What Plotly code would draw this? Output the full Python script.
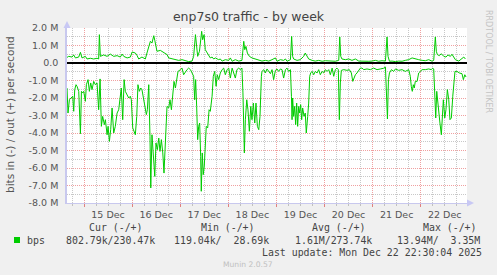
import pandas as pd
import plotly.graph_objects as go

# ---------------- data ----------------
BASE = pd.Timestamp("2025-12-15 00:00")  # hours below are relative to this

out_hours = [-8.5, -7.65, -6.0, -5.15, -4.3, -2.65, -1.8, -1.0, 0.67, 1.5,
             3.16, 4.8, 6.5, 7.3, 7.65, 8.15, 9.8, 11.5, 13.1, 14.8,
             16.5, 18.1, 19.0, 19.8, 21.5, 23.1, 24.0, 25.6, 26.4, 27.3,
             28.9, 30.6, 31.4, 32.3, 33.1, 33.9, 34.8, 35.3, 36.4, 38.1,
             39.8, 41.4,
             42.25, 43.9, 45.6, 47.2, 48.9, 50.6, 52.2, 53.9, 54.7, 55.6,
             56.1, 56.7, 57.6, 58.2, 58.7, 59.2, 59.9, 60.5, 61.4, 62.2,
             63.0, 63.9, 64.7, 65.5, 67.2, 68.0, 68.9, 70.5, 72.2, 73.0,
             73.9, 75.5, 77.2, 78.8, 79.7, 80.2, 80.8, 81.5, 82.5, 83.8,
             85.5, 87.2,
             88.8, 90.5, 92.2, 93.8, 95.5, 96.3, 98.0, 99.6, 100.5, 101.3,
             103.0, 103.6, 104.1, 104.6, 106.3, 107.9, 109.6, 110.4, 111.3, 112.1,
             113.8, 115.4, 117.1, 118.8, 120.4, 122.1, 123.8, 125.4, 127.1, 127.6,
             128.1, 128.7, 130.4, 132.1, 133.7, 135.4, 137.1,
             138.7, 140.4, 142.1, 143.7, 145.4, 147.0, 148.7, 150.4, 151.2, 151.7,
             152.4, 153.7, 155.4, 157.0, 158.7, 160.3, 162.0, 163.7, 165.3, 167.0,
             168.7, 170.3, 172.0, 173.7, 174.5, 175.3, 175.8, 176.3, 177.3, 178.3,
             179.5, 180.6, 181.6, 182.8, 183.6, 184.5, 185.3, 187.0, 188.6, 189.5,
             190.3]
out_mbps = [0.32, 0.38, 0.34, 0.46, 0.29, 0.34, 0.61, 0.29, 0.38, 0.23,
            0.27, 0.23, 0.27, 0.23, 1.62, 0.38, 0.46, 0.38, 0.51, 0.38,
            0.42, 0.34, 0.51, 0.38, 0.29, 0.34, 0.63, 0.57, 0.44, 0.23,
            0.34, 0.23, 0.57, 0.99, 1.24, 1.14, 1.56, 1.30, 0.67, 0.72,
            0.57, 0.48,
            0.29, 0.23, 0.19, 0.15, 0.19, 0.11, 0.08, 0.11, 0.38, 1.62,
            0.95, 0.38, 0.67, 1.43, 1.81, 1.33, 1.62, 0.76, 0.57, 0.42,
            0.29, 0.34, 0.23, 0.29, 0.19, 0.23, 0.11, 0.19, 0.15, 0.29,
            0.10, 0.19, 0.11, 0.15, 1.24, 0.76, 0.95, 0.57, 0.38, 0.29,
            0.23, 0.15,
            0.11, 0.15, 0.11, 0.19, 0.29, 0.10, 0.19, 0.15, 0.23, 0.10,
            0.19, 1.52, 0.38, 0.23, 0.15, 0.19, 0.38, 0.57, 0.38, 0.23,
            0.15, 0.11, 0.15, 0.10, 0.13, 0.11, 0.13, 0.10, 0.15, 1.49,
            0.38, 0.23, 0.19, 0.23, 0.15, 0.23, 0.11,
            0.10, 0.08, 0.10, 0.11, 0.15, 0.10, 0.13, 0.11, 1.49, 0.38,
            0.10, 0.11, 0.08, 0.11, 0.10, 0.15, 0.19, 0.29, 0.23, 0.19,
            0.15, 0.13, 0.19, 0.10, 0.15, 1.49, 0.67, 0.48, 0.42, 0.53,
            0.38, 0.34, 0.46, 0.38, 0.50, 0.34, 0.19, 0.11, 0.23, 0.34,
            0.23]

in_hours = [-8.5, -8.0, -7.3, -6.3, -5.65, -5.15, -4.65, -4.0, -3.5, -2.65,
            -1.8, -1.3, -0.67, -0.17, 0.67, 1.16, 2.0, 2.66, 3.33, 4.0,
            4.82, 5.65, 6.5, 7.3, 8.0, 8.65, 9.3, 10.15, 10.65, 11.5,
            12.0, 12.65, 13.3, 14.0, 14.8, 15.6, 16.5, 17.3, 18.1, 18.6,
            19.3, 20.0, 20.6, 21.5, 22.3, 23.1, 23.6, 24.3, 24.95, 25.6,
            26.3, 26.9, 27.6, 28.3, 28.9, 29.8, 30.6, 31.1, 31.6, 32.3,
            32.9, 33.3, 33.9, 34.6, 35.3, 35.9, 36.6, 37.3, 37.9, 38.6,
            39.3, 39.9, 40.6, 41.4,
            42.25, 42.9, 43.6, 44.2, 44.9, 45.6, 46.2, 46.9, 48.1, 48.9,
            49.7, 50.6, 51.4, 52.2, 53.1, 53.9, 54.7, 55.2, 55.7, 56.2,
            56.7, 57.2, 57.7, 58.2, 58.5, 59.0, 59.5, 60.0, 60.5, 61.0,
            61.7, 62.4, 63.0, 63.9, 64.5, 65.2, 65.9, 66.5, 67.2, 68.0,
            68.9, 69.7, 70.5, 71.4, 72.2, 73.0, 73.9, 74.7, 75.5, 76.3,
            77.2, 78.0, 78.8, 79.3, 80.0, 80.5, 81.2, 81.8, 82.5, 83.2,
            83.8, 84.5, 85.2, 85.8, 86.5, 87.2, 87.8, 88.5,
            88.8, 89.7, 90.5, 91.3, 92.2, 93.0, 93.8, 94.6, 95.5, 96.3,
            97.1, 98.0, 98.8, 99.6, 100.5, 101.3, 102.1, 103.0, 103.5, 103.8,
            104.1, 104.6, 105.1, 105.6, 106.1, 106.6, 107.1, 107.6, 108.1, 108.6,
            109.1, 109.8, 110.4, 110.9, 111.6, 112.1, 112.6, 113.1, 113.8, 114.6,
            115.4, 116.3, 117.1, 117.9, 118.8, 119.6, 120.4, 121.3, 122.1, 122.9,
            123.8, 124.6, 125.4, 126.2, 126.9, 127.4, 127.9, 128.4, 129.6, 131.2,
            132.4, 133.4, 134.1, 134.7, 135.4, 136.2, 137.1, 137.9,
            138.7, 139.6, 141.2, 142.9, 144.5, 146.2, 147.9, 149.5, 150.4, 150.9,
            151.4, 151.9, 152.4, 153.4, 154.5, 155.4, 157.0, 158.7, 160.3, 162.0,
            162.8, 163.3, 163.8, 164.3, 164.8, 165.3, 166.2, 167.0, 167.8, 168.7,
            170.3, 172.0, 173.3, 174.0, 174.5, 175.0, 175.5, 176.0, 176.5, 177.0,
            177.6, 178.3, 178.8, 179.3, 180.0, 180.6, 181.3, 182.0, 182.6, 183.3,
            184.0, 184.6, 185.1, 186.1, 187.3, 188.6, 189.3, 190.0, 190.6]
in_mbps = [1.43, 2.86, 2.10, 2.00, 1.90, 2.76, 1.52, 1.24, 1.33, 1.62,
           4.04, 1.62, 1.71, 1.62, 2.19, 1.24, 0.95, 1.62, 1.14, 1.52,
           1.05, 1.24, 1.14, 2.67, 0.91, 3.62, 3.05, 3.52, 3.24, 4.10,
           3.62, 4.48, 3.81, 2.57, 4.00, 3.62, 2.86, 2.67, 1.90, 1.43,
           3.24, 0.95, 1.62, 1.81, 2.00, 1.90, 2.10, 3.71, 3.90, 4.10,
           3.05, 1.24, 1.62, 1.43, 1.52, 2.10, 2.67, 2.95, 2.67, 1.24,
           4.19, 7.14, 4.10, 5.14, 6.48, 4.57, 4.95, 4.29, 5.05, 4.38,
           5.14, 6.29, 4.19, 2.48,
           2.57, 2.10, 2.67, 1.90, 1.05, 1.43, 0.86, 0.48, 0.38, 0.29,
           0.67, 0.48, 0.38, 0.29, 0.38, 0.57, 0.76, 2.10, 0.95, 2.48,
           4.38, 3.62, 3.43, 5.33, 7.33, 5.14, 6.38, 5.90, 4.38, 3.62,
           3.71, 2.67, 2.76, 1.90, 0.76, 0.48, 1.33, 0.67, 0.95, 0.57,
           0.38, 0.29, 0.67, 0.38, 0.29, 0.86, 0.29, 0.57, 0.86, 0.38,
           0.29, 0.38, 0.29, 1.71, 5.14, 3.24, 2.10, 2.67, 3.90, 2.48,
           3.24, 2.29, 3.43, 2.29, 3.62, 3.81, 3.05, 0.76,
           0.48, 0.38, 0.57, 0.34, 0.48, 0.61, 0.38, 0.95, 0.42, 0.34,
           0.48, 0.34, 0.38, 0.86, 0.38, 0.29, 0.48, 0.38, 1.90, 3.24,
           2.00, 3.05, 2.48, 3.52, 2.29, 3.62, 2.48, 2.86, 2.38, 3.24,
           2.57, 3.05, 2.86, 4.00, 3.05, 2.29, 0.76, 0.57, 0.48, 0.67,
           0.48, 0.57, 0.38, 0.67, 0.48, 0.57, 0.38, 0.48, 0.38, 0.67,
           0.29, 0.76, 0.38, 0.29, 0.38, 3.24, 1.14, 0.42, 0.38, 0.42,
           0.38, 0.57, 1.05, 0.86, 0.67, 0.57, 0.38, 0.29,
           0.29, 0.38, 0.34, 0.38, 0.29, 0.38, 0.34, 0.30, 0.23, 1.33,
           3.20, 0.95, 0.57, 0.38, 0.48, 0.34, 0.42, 0.38, 0.48, 0.38,
           0.76, 1.33, 1.62, 1.24, 1.43, 1.05, 1.05, 0.57, 0.48, 0.38,
           0.38, 0.34, 0.38, 0.29, 0.34, 1.71, 3.14, 1.62, 2.29, 2.86,
           3.43, 4.10, 3.24, 2.10, 3.14, 2.67, 1.52, 2.10, 3.24, 3.14,
           1.90, 1.05, 0.48, 0.48, 0.57, 0.61, 0.95, 0.67, 0.80]

x_range_hours = [-8.5, 191.1]
y_tick_values = [2, 1, 0, -1, -2, -3, -4, -5, -6, -7, -8]
y_tick_labels = ["2.0 M", "1.0 M", "0.0", "-1.0 M", "-2.0 M", "-3.0 M",
                 "-4.0 M", "-5.0 M", "-6.0 M", "-7.0 M", "-8.0 M"]

series_name = "bps"
legend_headers = ["Cur (-/+)", "Min (-/+)", "Avg (-/+)", "Max (-/+)"]
legend_values = ["802.79k/230.47k", "119.04k/  28.69k", "1.61M/273.74k", "13.94M/  3.35M"]
last_update = "Last update: Mon Dec 22 22:30:04 2025"

# ---------------- styling ----------------
W, H = 497, 275
L, T, PW, PH = 67, 28, 400, 175
GREEN = "#00cc00"
MAJOR = "#f0a0a0"
MINOR = "#c8c8c8"
AXIS = "#c8c8ee"
TXT = "#555555"
SANS = "DejaVu Sans"
MONO = "DejaVu Sans Mono"
DOTS = "1px,1px"


def px_x(px):
    return (px - L) / PW


def px_y(py):
    return (T + PH - py) / PH


def to_time(hours):
    return BASE + pd.to_timedelta(hours, unit="h")


fig = go.Figure()
fig.add_trace(go.Scatter(x=to_time(out_hours), y=out_mbps, mode="lines",
                         line=dict(color=GREEN, width=1), showlegend=False,
                         hoverinfo="skip"))
fig.add_trace(go.Scatter(x=to_time(in_hours), y=[-v for v in in_mbps], mode="lines",
                         line=dict(color=GREEN, width=1), showlegend=False,
                         hoverinfo="skip"))

fig.update_layout(
    width=W, height=H,
    margin=dict(l=L, r=W - L - PW, t=T, b=H - T - PH, pad=0),
    paper_bgcolor="#f0f0f0",
    plot_bgcolor="#ffffff",
    showlegend=False,
    title=dict(text="enp7s0 traffic - by week", x=0.5, xref="container",
               y=1 - 17 / H, yref="container", xanchor="center", yanchor="middle",
               font=dict(family=SANS, size=12.5, color="#444444")),
    xaxis=dict(
        type="date",
        range=[to_time(x_range_hours[0]), to_time(x_range_hours[1])],
        tick0=BASE, dtick=86400000, tickformat="%d %b", ticklabelmode="period",
        showgrid=True, gridcolor=MAJOR, griddash=DOTS, gridwidth=1,
        ticks="outside", ticklen=3, tickcolor="#e08080",
        showline=True, linecolor=AXIS, linewidth=1,
        zeroline=False,
        tickfont=dict(family=SANS, size=9.5, color=TXT),
        minor=dict(dtick=21600000, tick0=BASE, showgrid=True, gridcolor=MINOR,
                   griddash=DOTS, gridwidth=1, ticks="outside", ticklen=2,
                   tickcolor="#c0c0c0"),
    ),
    yaxis=dict(
        range=[-8, 2],
        tickvals=y_tick_values, ticktext=y_tick_labels,
        showgrid=True, gridcolor=MAJOR, griddash=DOTS, gridwidth=1,
        ticks="", ticklabelstandoff=5,
        showline=True, linecolor=AXIS, linewidth=1.5,
        zeroline=True, zerolinecolor="#000000", zerolinewidth=1.5,
        tickfont=dict(family=SANS, size=9.5, color=TXT),
        minor=dict(dtick=0.5, tick0=0, showgrid=True, gridcolor=MINOR,
                   griddash=DOTS, gridwidth=1),
    ),
)

ann = []
# y axis title
ann.append(dict(text="bits in (-) / out (+) per second", xref="paper", yref="paper",
                x=px_x(10), y=px_y(115), textangle=-90, showarrow=False,
                xanchor="center", yanchor="middle",
                font=dict(family=SANS, size=10.5, color=TXT)))
# watermark
ann.append(dict(text="RRDTOOL / TOBI OETIKER", xref="paper", yref="paper",
                x=px_x(489), y=px_y(61), textangle=90, showarrow=False,
                xanchor="center", yanchor="middle",
                font=dict(family=SANS, size=8, color="#c4c4c4")))
# legend headers
for txt, px in zip(legend_headers, [89, 201, 312, 423]):
    ann.append(dict(text=txt, xref="paper", yref="paper", x=px_x(px - 2), y=px_y(227),
                    showarrow=False, xanchor="left", yanchor="middle",
                    font=dict(family=MONO, size=9.9, color="#444444")))
ann.append(dict(text=series_name, xref="paper", yref="paper", x=px_x(25), y=px_y(240),
                showarrow=False, xanchor="left", yanchor="middle",
                font=dict(family=MONO, size=9.9, color="#444444")))
for txt, px in zip(legend_values, [66, 174, 295, 397]):
    ann.append(dict(text=txt.replace(" ", "&nbsp;"), xref="paper", yref="paper",
                    x=px_x(px - 2), y=px_y(240),
                    showarrow=False, xanchor="left", yanchor="middle",
                    font=dict(family=MONO, size=9.9, color="#444444")))
ann.append(dict(text=last_update, xref="paper", yref="paper", x=px_x(260), y=px_y(252),
                showarrow=False, xanchor="left", yanchor="middle",
                font=dict(family=MONO, size=9.9, color="#444444")))
ann.append(dict(text="Munin 2.0.57", xref="paper", yref="paper", x=px_x(248), y=px_y(264),
                showarrow=False, xanchor="center", yanchor="middle",
                font=dict(family=SANS, size=7.6, color="#c0c0c0")))
fig.update_layout(annotations=ann)

# legend colour square and axis arrows (decorations)
fig.add_shape(type="rect", xref="paper", yref="paper",
              x0=px_x(14), x1=px_x(20), y0=px_y(243), y1=px_y(237),
              fillcolor=GREEN, line=dict(width=0))
fig.add_shape(type="path", xref="paper", yref="paper",
              path=f"M {px_x(63.5)} {px_y(28)} L {px_x(70.5)} {px_y(28)} L {px_x(67)} {px_y(21)} Z",
              fillcolor="#c8c8f4", line=dict(width=0))
fig.add_shape(type="path", xref="paper", yref="paper",
              path=f"M {px_x(467)} {px_y(199.5)} L {px_x(467)} {px_y(206.5)} L {px_x(474)} {px_y(203)} Z",
              fillcolor="#c8c8f4", line=dict(width=0))

fig.write_html("out.html")
